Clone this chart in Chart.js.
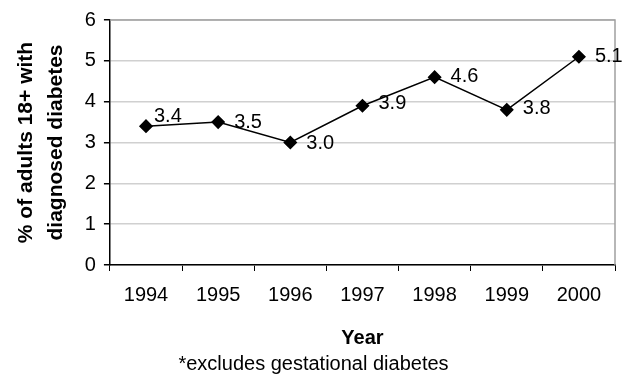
<!DOCTYPE html>
<html>
<head>
<meta charset="utf-8">
<script src="https://cdn.jsdelivr.net/npm/chart.js@4/dist/chart.umd.min.js"></script>
<style>
  html, body { margin: 0; padding: 0; background: #fff; }
  #wrap { width: 630px; height: 379px; }
</style>
</head>
<body>
<div id="wrap"><canvas id="diabetesChart" width="630" height="379"></canvas></div>
<script>
// values
const years = ["1994", "1995", "1996", "1997", "1998", "1999", "2000"];
const prevalence = [3.4, 3.5, 3.0, 3.9, 4.6, 3.8, 5.1];
const yTicks = [0, 1, 2, 3, 4, 5, 6];

// small nudges so the labels sit like the original
const labelShiftX = [-8, 0, 0, 0, 0, 0, 0];
const labelShiftY = [-10, 0, 1, -2, -1, -1, 0];

const FONT = "'Liberation Sans', Arial, sans-serif";

// grey frame on top and right of the plot area
const frame = {
  id: "frame",
  beforeDatasetsDraw(chart) {
    const { ctx, chartArea: a } = chart;
    ctx.save();
    ctx.strokeStyle = "#a0a0a0";
    ctx.lineWidth = 1.5;
    ctx.beginPath();
    ctx.moveTo(a.left, a.top);
    ctx.lineTo(a.right, a.top);
    ctx.lineTo(a.right, a.bottom);
    ctx.stroke();
    ctx.restore();
  }
};

// value labels to the right of each point
const valueLabels = {
  id: "valueLabels",
  afterDatasetsDraw(chart) {
    const { ctx } = chart;
    const meta = chart.getDatasetMeta(0);
    ctx.save();
    ctx.font = "20px " + FONT;
    ctx.fillStyle = "#000";
    ctx.textAlign = "left";
    ctx.textBaseline = "middle";
    meta.data.forEach((pt, i) => {
      ctx.fillText(prevalence[i].toFixed(1), pt.x + 16 + labelShiftX[i], pt.y + labelShiftY[i]);
    });
    ctx.restore();
  }
};

new Chart(document.getElementById("diabetesChart"), {
  type: "line",
  data: {
    labels: years,
    datasets: [{
      data: prevalence,
      borderColor: "#000",
      borderWidth: 1.5,
      backgroundColor: "#000",
      pointStyle: "rectRot",
      pointRadius: 6,
      pointBorderColor: "#000",
      pointBackgroundColor: "#000",
      tension: 0
    }]
  },
  options: {
    responsive: false,
    animation: false,
    layout: { padding: { top: 11, right: 15, left: 12, bottom: 3 } },
    plugins: {
      legend: { display: false },
      tooltip: { enabled: false },
      subtitle: {
        display: true,
        position: "bottom",
        text: "*excludes gestational diabetes",
        color: "#000",
        font: { family: FONT, size: 20 },
        padding: { top: 0, bottom: 0 }
      }
    },
    scales: {
      x: {
        offset: true,
        grid: {
          offset: true,
          drawOnChartArea: false,
          drawTicks: true,
          tickLength: 6,
          color: "#000"
        },
        border: { color: "#000", width: 1.5 },
        ticks: {
          color: "#000",
          font: { family: FONT, size: 20 },
          padding: 12
        },
        title: {
          display: true,
          text: "Year",
          color: "#000",
          font: { family: FONT, size: 20, weight: "bold" },
          padding: { top: 7, bottom: 2 }
        }
      },
      y: {
        min: 0,
        max: 6,
        afterBuildTicks: axis => { axis.ticks = yTicks.map(v => ({ value: v })); },
        grid: {
          color: "#d0d0d0",
          lineWidth: 1.5,
          drawTicks: true,
          tickLength: 6,
          tickColor: "#000"
        },
        border: { color: "#000", width: 1.5 },
        ticks: {
          color: "#000",
          font: { family: FONT, size: 20 },
          padding: 8
        },
        title: {
          display: true,
          text: ["% of adults 18+ with", "diagnosed diabetes"],
          color: "#000",
          font: { family: FONT, size: 21, weight: "bold", lineHeight: 1.4 },
          padding: { top: 0, bottom: 6 }
        }
      }
    }
  },
  plugins: [frame, valueLabels]
});
</script>
</body>
</html>
